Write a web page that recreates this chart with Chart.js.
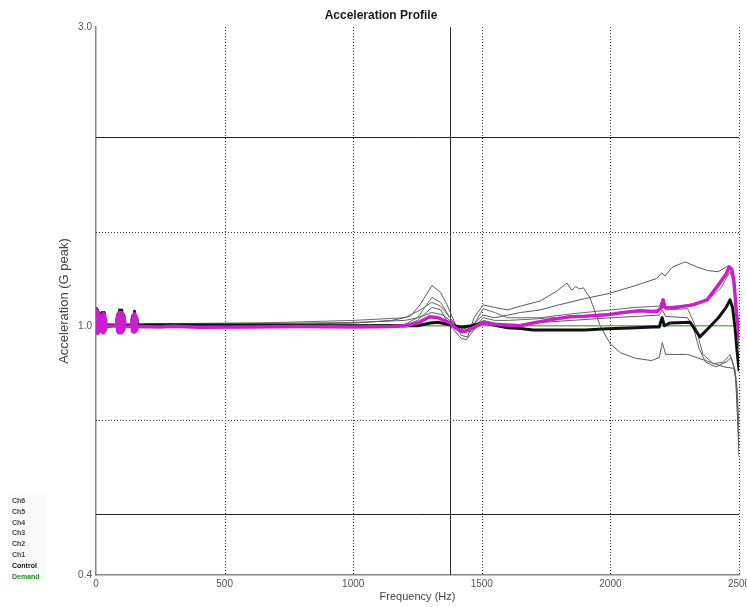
<!DOCTYPE html>
<html>
<head>
<meta charset="utf-8">
<title>Acceleration Profile</title>
<script src="https://cdn.jsdelivr.net/npm/chart.js@4/dist/chart.umd.min.js"></script>
<style>
  html, body { margin: 0; padding: 0; background: #ffffff; }
  #wrap { position: relative; width: 747px; height: 607px; }
  canvas { display: block; }
</style>
</head>
<body>
<div id="wrap"><canvas id="chart" width="747" height="607"></canvas></div>
<script>
// ---- Axis settings ----
const X_MIN = 0, X_MAX = 2500;
const X_GRID_DOTTED = [500, 1000, 1500, 2000, 2500];
const CURSOR_HZ = 1376;
const Y_MIN = 0.4, Y_MAX = 3.0;
const Y_TICKS = [0.4, 1.0, 3.0];
const Y_GRID_SOLID = [2.0, 0.5];      // +/- 6 dB abort lines
const Y_GRID_DOTTED = [1.414, 0.707]; // +/- 3 dB alarm lines

const LEGEND_LABELS = ['Ch6', 'Ch5', 'Ch4', 'Ch3', 'Ch2', 'Ch1', 'Control', 'Demand'];

// ---- Demand profile (G peak) ----
const demandHz  = [0, 2500];
const demandVal = [1.0, 1.0];

// ---- Control channel ----
const controlHz = [0, 3, 6, 9, 12, 16, 20, 24, 28, 32, 36, 40, 80, 84, 88, 92, 96, 100, 104, 108, 112,
  138, 142, 146, 150, 154, 158, 162, 200, 400, 600, 800, 1000, 1200, 1250, 1300, 1330, 1376, 1420, 1460,
  1505, 1560, 1600, 1650, 1700, 1726, 1800, 1900, 1987, 2050, 2100, 2166, 2190, 2201, 2210, 2230, 2310,
  2330, 2348, 2380, 2420, 2450, 2465, 2475, 2485, 2492, 2500];
const controlVal = [1.065, 0.98, 1.06, 0.975, 1.05, 0.985, 1.02, 1.05, 0.98, 1.05, 0.985, 1.003, 1.003, 1.04, 0.98, 1.06, 0.978, 1.06, 0.98, 1.04, 1.003,
  1.003, 1.035, 0.98, 1.055, 0.98, 1.03, 1.003, 1.004, 1.003, 1.002, 1.001, 1.0, 1.0, 1.0, 1.01, 1.013, 1.004, 0.995, 1.0,
  1.011, 1.0, 0.993, 0.99, 0.985, 0.985, 0.985, 0.985, 0.989, 0.991, 0.993, 0.996, 0.996, 1.03, 1.0, 1.01, 1.013,
  0.985, 0.96, 0.99, 1.03, 1.07, 1.10, 1.07, 0.99, 0.915, 0.85];

// ---- Ch1 ----
const ch1Hz = [0, 2, 4, 6, 8, 10, 12, 14, 16, 18, 20, 22, 24, 26, 28, 30, 32, 34, 36, 38, 40,
  80, 82, 84, 86, 88, 90, 92, 94, 96, 98, 100, 102, 104, 106, 108, 110, 112,
  138, 140, 142, 144, 146, 148, 150, 152, 154, 156, 158, 160,
  250, 300, 400, 600, 800, 1000, 1150, 1200, 1250, 1298, 1330, 1376, 1400, 1427, 1460, 1505, 1540, 1583,
  1648, 1700, 1765, 1843, 1900, 1987, 2050, 2115, 2181, 2198, 2205, 2212, 2220, 2270, 2321, 2376, 2426,
  2450, 2462, 2472, 2480, 2490, 2497, 2500];
const ch1Val = [1.06, 0.975, 1.055, 0.972, 1.05, 0.975, 1.04, 0.98, 1.03, 0.99, 1.02, 0.985, 1.04, 0.975, 1.045, 0.975, 1.04, 0.98, 1.025, 0.99, 0.997,
  1.0, 1.03, 0.98, 1.045, 0.975, 1.05, 0.975, 1.05, 0.975, 1.05, 0.975, 1.045, 0.98, 1.035, 0.985, 1.015, 0.997,
  0.997, 1.025, 0.98, 1.04, 0.977, 1.045, 0.977, 1.04, 0.98, 1.03, 0.985, 0.997,
  0.996, 0.998, 0.995, 0.996, 0.997, 0.996, 0.997, 1.0, 1.01, 1.034, 1.03, 1.011, 0.99, 0.978, 0.99, 1.011, 1.006, 1.004,
  1.0, 1.01, 1.022, 1.034, 1.036, 1.041, 1.05, 1.057, 1.053, 1.07, 1.10, 1.07, 1.068, 1.072, 1.08, 1.10, 1.171,
  1.21, 1.242, 1.23, 1.18, 1.05, 0.985, 0.96];

// ---- Ch2 ----
const ch2Hz  = [0, 200, 600, 1000, 1200, 1250, 1306, 1350, 1376, 1420, 1460, 1505, 1550, 1600, 1650, 1726, 1800,
  1900, 1990, 2100, 2180, 2200, 2212, 2240, 2290, 2340, 2380, 2420, 2455, 2472, 2485, 2495, 2500];
const ch2Val = [1.0, 1.005, 1.008, 1.012, 1.02, 1.03, 1.05, 1.04, 1.02, 0.985, 1.0, 1.04, 1.03, 1.04, 1.05, 1.06, 1.08,
  1.105, 1.125, 1.16, 1.19, 1.215, 1.2, 1.24, 1.265, 1.24, 1.225, 1.22, 1.245, 1.23, 1.14, 1.0, 0.95];

// ---- Ch3 ----
const ch3Hz  = [0, 200, 600, 1000, 1150, 1221, 1260, 1306, 1340, 1365, 1400, 1420, 1445, 1470, 1505, 1550, 1600,
  1650, 1726, 1790, 1831, 1850, 1865, 1880, 1895, 1920, 1960, 2000, 2040, 2100, 2160, 2190, 2202, 2215,
  2300, 2370, 2440, 2480, 2492, 2500];
const ch3Val = [1.0, 1.003, 1.005, 1.01, 1.02, 1.035, 1.08, 1.16, 1.13, 1.08, 1.0, 0.965, 0.96, 1.03, 1.08, 1.07, 1.06,
  1.075, 1.095, 1.135, 1.17, 1.14, 1.155, 1.145, 1.15, 1.11, 1.0, 0.935, 0.905, 0.887, 0.88, 0.89, 0.94, 0.9,
  0.9, 0.88, 0.86, 0.855, 0.8, 0.69];

// ---- Ch4 ----
const ch4Hz  = [0, 600, 1200, 1250, 1306, 1340, 1376, 1420, 1460, 1505, 1550, 1600, 1726, 1850, 2000, 2100,
  2190, 2202, 2215, 2300, 2380, 2430, 2465, 2480, 2492, 2500];
const ch4Val = [1.0, 1.0, 1.005, 1.03, 1.11, 1.09, 1.03, 0.98, 0.99, 1.065, 1.05, 1.03, 1.03, 1.045, 1.06, 1.07,
  1.075, 1.10, 1.07, 1.08, 1.10, 1.15, 1.22, 1.17, 1.0, 0.92];

// ---- Ch5 ----
const ch5Hz  = [0, 600, 1200, 1250, 1306, 1340, 1376, 1420, 1440, 1470, 1505, 1550, 1600, 1726, 1850, 2000, 2100,
  2190, 2202, 2215, 2300, 2320, 2345, 2370, 2410, 2450, 2470, 2488, 2500];
const ch5Val = [1.0, 0.998, 1.0, 1.02, 1.07, 1.06, 1.0, 0.955, 0.95, 0.985, 1.02, 1.01, 1.0, 1.012, 1.02, 1.03, 1.035,
  1.04, 1.06, 1.035, 1.03, 1.0, 0.92, 0.875, 0.86, 0.875, 0.89, 0.83, 0.62];

// ---- Ch6 ----
const ch6Hz  = [0, 300, 700, 1000, 1200, 1260, 1306, 1340, 1376, 1420, 1460, 1505, 1550, 1600, 1700, 1850, 2000,
  2100, 2190, 2202, 2215, 2300, 2330, 2360, 2400, 2440, 2465, 2485, 2500];
const ch6Val = [1.0, 1.008, 1.012, 1.02, 1.03, 1.06, 1.09, 1.075, 1.03, 0.975, 0.98, 1.03, 1.02, 1.02, 1.025, 1.035, 1.045,
  1.055, 1.06, 1.075, 1.06, 1.065, 1.0, 0.9, 0.87, 0.875, 0.9, 0.85, 0.65];

function pts(hz, val) { return hz.map((f, i) => ({ x: f, y: val[i] })); }

const FONT = '"Liberation Sans", Arial, sans-serif';

function line(label, hz, val, color, width, order) {
  return {
    label, data: pts(hz, val), borderColor: color, backgroundColor: color,
    borderWidth: width, pointRadius: 0, tension: 0, fill: false, order,
    borderJoinStyle: 'round', borderCapStyle: 'round'
  };
}

// Reference lines, cursor and free text
const decorPlugin = {
  id: 'decor',
  beforeDatasetsDraw(chart) {
    const { ctx, chartArea: a, scales: { x, y } } = chart;
    ctx.save();
    ctx.lineWidth = 1;
    ctx.strokeStyle = '#333';
    // dotted frequency lines
    ctx.setLineDash([1, 2]);
    X_GRID_DOTTED.forEach(f => {
      const px = Math.round(x.getPixelForValue(f)) + 0.5;
      ctx.beginPath(); ctx.moveTo(px, a.top); ctx.lineTo(px, a.bottom); ctx.stroke();
    });
    Y_GRID_DOTTED.forEach(v => {
      const py = Math.round(y.getPixelForValue(v)) + 0.5;
      ctx.beginPath(); ctx.moveTo(a.left, py); ctx.lineTo(a.right, py); ctx.stroke();
    });
    // solid level lines and cursor
    ctx.setLineDash([]);
    ctx.strokeStyle = '#222';
    Y_GRID_SOLID.forEach(v => {
      const py = Math.round(y.getPixelForValue(v)) + 0.5;
      ctx.beginPath(); ctx.moveTo(a.left, py); ctx.lineTo(a.right, py); ctx.stroke();
    });
    const cx = Math.round(x.getPixelForValue(CURSOR_HZ)) + 0.5;
    ctx.strokeStyle = '#333';
    ctx.beginPath(); ctx.moveTo(cx, a.top); ctx.lineTo(cx, a.bottom); ctx.stroke();
    ctx.restore();
  },
  afterDraw(chart) {
    const { ctx, chartArea: a } = chart;
    ctx.save();
    // title
    ctx.fillStyle = '#1a1a1a';
    ctx.font = 'bold 12px ' + FONT;
    ctx.textAlign = 'center';
    ctx.textBaseline = 'middle';
    ctx.fillText('Acceleration Profile', 381, 16);
    // axis titles
    ctx.fillStyle = '#444';
    ctx.font = '11px ' + FONT;
    ctx.fillText('Frequency (Hz)', (a.left + a.right) / 2, 597);
    ctx.save();
    ctx.translate(64, (a.top + a.bottom) / 2);
    ctx.rotate(-Math.PI / 2);
    ctx.font = '13px ' + FONT;
    ctx.fillText('Acceleration (G peak)', 0, 0);
    ctx.restore();
    // channel key
    ctx.fillStyle = '#fafafa';
    ctx.fillRect(8, 493, 38, 90);
    ctx.textAlign = 'left';
    ctx.font = 'bold 7px ' + FONT;
    LEGEND_LABELS.forEach((t, i) => {
      ctx.fillStyle = t === 'Demand' ? '#1e8c1e' : (t === 'Control' ? '#111' : '#444');
      ctx.fillText(t, 12, 501 + i * 10.8);
    });
    ctx.restore();
  }
};

new Chart(document.getElementById('chart'), {
  type: 'line',
  data: {
    datasets: [
      line('Ch1', ch1Hz, ch1Val, '#cc1fcc', 3.5, 0),
      line('Control', controlHz, controlVal, '#111111', 3, 1),
      line('Demand', demandHz, demandVal, '#6fae6f', 1.5, 2),
      line('Ch2', ch2Hz, ch2Val, '#5a5a5a', 1, 3),
      line('Ch3', ch3Hz, ch3Val, '#5a5a5a', 1, 4),
      line('Ch4', ch4Hz, ch4Val, '#6a6a6a', 1, 5),
      line('Ch5', ch5Hz, ch5Val, '#5a5a5a', 1, 6),
      line('Ch6', ch6Hz, ch6Val, '#6a6a6a', 1, 7)
    ]
  },
  options: {
    responsive: false,
    animation: false,
    devicePixelRatio: 1,
    layout: { padding: { top: 27, right: 8, left: 0, bottom: 0 } },
    plugins: { legend: { display: false }, title: { display: false }, tooltip: { enabled: false } },
    scales: {
      x: {
        type: 'linear', min: X_MIN, max: X_MAX,
        grid: { display: false, drawTicks: false },
        border: { display: true, color: '#888', width: 1.5 },
        ticks: { stepSize: 500, padding: 3, color: '#555', font: { family: FONT, size: 10 }, callback: v => String(v) },
        afterFit(s) { s.height = 32; s.paddingLeft = 0; s.paddingRight = 0; }
      },
      y: {
        type: 'logarithmic', min: Y_MIN, max: Y_MAX,
        grid: { display: false, drawTicks: false },
        border: { display: true, color: '#888', width: 1.5 },
        afterBuildTicks(s) { s.ticks = Y_TICKS.map(v => ({ value: v })); },
        ticks: { padding: 4, color: '#555', font: { family: FONT, size: 10 }, callback: v => Number(v).toFixed(1) },
        afterFit(s) { s.width = 96; s.paddingTop = 0; s.paddingBottom = 0; }
      }
    }
  },
  plugins: [decorPlugin]
});
</script>
</body>
</html>
